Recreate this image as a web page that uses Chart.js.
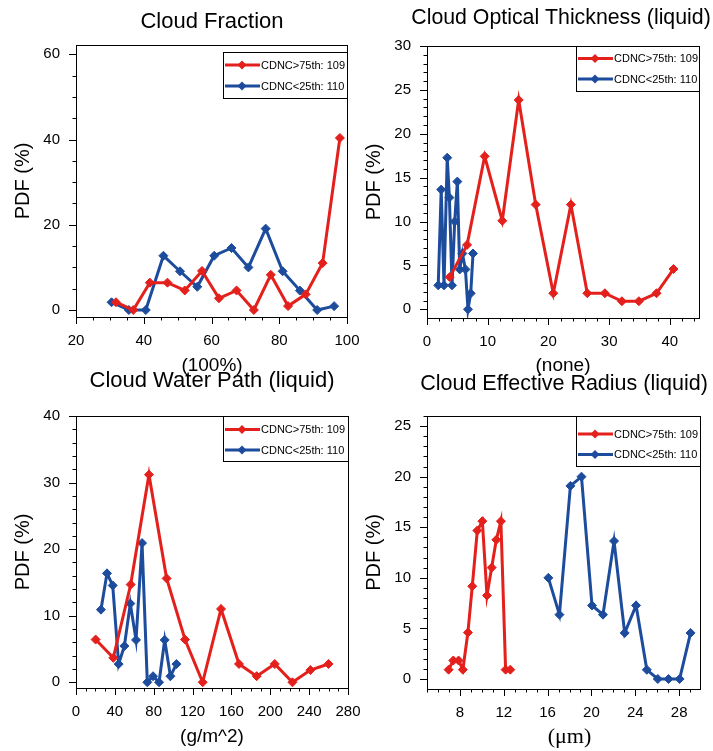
<!DOCTYPE html>
<html>
<head>
<meta charset="utf-8">
<title>CDNC PDFs</title>
<script src="https://cdn.jsdelivr.net/npm/chart.js@4/dist/chart.umd.min.js"></script>
<style>
  body { margin: 0; background: #fff; }
  #wrap { position: relative; width: 713px; height: 751px; }
  #wrap canvas { position: absolute; left: 0; top: 0; }
</style>
</head>
<body>
<div id="wrap">
  <canvas id="cf" width="713" height="751"></canvas>
  <canvas id="cot" width="713" height="751"></canvas>
  <canvas id="cwp" width="713" height="751"></canvas>
  <canvas id="cer" width="713" height="751"></canvas>
</div>
<script>
const RED = '#e3201c';
const BLUE = '#1d4c9d';
const LABEL_HI = 'CDNC>75th: 109';
const LABEL_LO = 'CDNC<25th: 110';

// Cloud fraction (100%)
const cfHiX = [31.8, 36.9, 41.8, 47.0, 52.1, 57.2, 62.2, 67.4, 72.5, 77.5, 82.6, 87.8, 92.8, 97.9];
const cfHiY = [1.83, 0, 6.42, 6.42, 4.59, 9.17, 2.75, 4.59, 0, 8.26, 0.92, 3.67, 11.01, 40.37];
const cfLoX = [30.5, 35.6, 40.6, 45.8, 50.7, 55.8, 60.8, 65.9, 70.9, 76.0, 81.0, 86.1, 91.2, 96.2];
const cfLoY = [1.82, 0, 0, 12.73, 9.09, 5.45, 12.73, 14.55, 10.0, 19.09, 9.09, 4.55, 0, 0.91];
const cfXTicks = [20, 40, 60, 80, 100];
const cfYTicks = [0, 20, 40, 60];

// Cloud optical thickness, liquid (none)
const cotHiX = [3.74, 6.6, 9.5, 12.4, 15.1, 17.9, 20.8, 23.7, 26.4, 29.3, 32.1, 34.9, 37.8, 40.6];
const cotHiY = [3.67, 7.34, 17.43, 10.09, 23.85, 11.93, 1.83, 11.93, 1.83, 1.83, 0.92, 0.92, 1.83, 4.59];
const cotLoX = [1.85, 2.34, 2.8, 3.33, 3.69, 4.12, 4.56, 5.0, 5.39, 5.83, 6.33, 6.75, 7.2, 7.58];
const cotLoY = [2.73, 13.64, 2.73, 17.27, 12.73, 2.73, 10.0, 14.55, 4.55, 6.36, 4.55, 0, 1.82, 6.36];
const cotXTicks = [0, 10, 20, 30, 40];
const cotYTicks = [0, 5, 10, 15, 20, 25, 30];

// Cloud water path, liquid (g/m^2)
const cwpHiX = [20.2, 38.4, 56.3, 75.1, 93.3, 112.2, 130.4, 149.3, 167.8, 186.0, 204.6, 222.8, 241.3, 259.9];
const cwpHiY = [6.42, 3.67, 14.68, 31.19, 15.6, 6.42, 0, 11.01, 2.75, 0.92, 2.75, 0, 1.83, 2.75];
const cwpLoX = [25.7, 31.9, 37.8, 43.9, 49.8, 55.9, 61.8, 68.0, 73.4, 79.3, 85.5, 91.3, 97.2, 103.4];
const cwpLoY = [10.91, 16.36, 14.55, 2.73, 5.45, 11.82, 6.36, 20.91, 0, 0.91, 0, 6.36, 0.91, 2.73];
const cwpXTicks = [0, 40, 80, 120, 160, 200, 240, 280];
const cwpYTicks = [0, 10, 20, 30, 40];

// Cloud effective radius, liquid (um)
const cerHiX = [6.97, 7.40, 7.88, 8.27, 8.73, 9.13, 9.59, 10.05, 10.47, 10.9, 11.32, 11.74, 12.17, 12.6];
const cerHiY = [0.92, 1.83, 1.83, 0.92, 4.59, 9.17, 14.68, 15.6, 8.26, 11.01, 13.76, 15.6, 0.92, 0.92];
const cerLoX = [16.07, 17.08, 18.08, 19.09, 20.05, 21.05, 22.06, 23.03, 24.07, 25.05, 26.05, 27.03, 28.04, 29.04];
const cerLoY = [10.0, 6.36, 19.09, 20.0, 7.27, 6.36, 13.64, 4.55, 7.27, 0.91, 0, 0, 0, 4.55];
const cerXTicks = [8, 12, 16, 20, 24, 28];
const cerYTicks = [0, 5, 10, 15, 20, 25];

const PAGE_W = 713, PAGE_H = 751;
const SANS = '"Liberation Sans", Arial, Helvetica, sans-serif';
const SERIF = '"Liberation Serif", "Times New Roman", serif';

function series(label, xs, ys, color) {
  return {
    label: label,
    data: xs.map((x, i) => ({ x: x, y: ys[i] })),
    borderColor: color,
    backgroundColor: color,
    borderWidth: 3,
    pointStyle: 'rectRot',
    pointRadius: 4.5,
    pointBorderWidth: 1,
    pointBackgroundColor: color,
    pointBorderColor: color,
    tension: 0,
    fill: false
  };
}

function diamond(ctx, x, y, r, color) {
  ctx.fillStyle = color;
  ctx.beginPath();
  ctx.moveTo(x - r, y);
  ctx.lineTo(x, y - r);
  ctx.lineTo(x + r, y);
  ctx.lineTo(x, y + r);
  ctx.closePath();
  ctx.fill();
}

// outward tick marks on the left and bottom axes, majors at the labelled values
function drawTicks(ctx, scale, majors, minorStep, area, horizontal) {
  const first = Math.ceil(scale.min / minorStep - 1e-6);
  for (let k = first; k * minorStep <= scale.max + 1e-6; k++) {
    const v = k * minorStep;
    const major = majors.some(m => Math.abs(m - v) < 1e-6);
    const len = major ? 7 : 3.5;
    const p = Math.round(scale.getPixelForValue(v)) + 0.5;
    ctx.beginPath();
    if (horizontal) {
      ctx.moveTo(p, area.bottom);
      ctx.lineTo(p, area.bottom + len);
    } else {
      ctx.moveTo(area.left, p);
      ctx.lineTo(area.left - len, p);
    }
    ctx.stroke();
  }
}

function decoPlugin(p) {
  return {
    id: 'deco',
    afterDatasetsDraw(chart) {
      const ctx = chart.ctx;
      const a = chart.chartArea;
      ctx.save();
      // frame
      ctx.strokeStyle = '#000';
      ctx.lineWidth = 1;
      ctx.strokeRect(Math.round(a.left) + 0.5, Math.round(a.top) + 0.5,
        Math.round(a.right - a.left), Math.round(a.bottom - a.top));
      drawTicks(ctx, chart.scales.x, p.xTicks, p.xMinor, a, true);
      drawTicks(ctx, chart.scales.y, p.yTicks, p.yMinor, a, false);

      // legend box
      const lg = p.legend;
      ctx.fillStyle = '#fff';
      ctx.fillRect(lg.x, lg.y, lg.w, lg.h);
      ctx.strokeRect(lg.x + 0.5, lg.y + 0.5, lg.w, lg.h);
      chart.data.datasets.forEach((ds, i) => {
        const y = lg.rows[i];
        ctx.strokeStyle = ds.borderColor;
        ctx.lineWidth = 3;
        ctx.beginPath();
        ctx.moveTo(lg.x + 2, y);
        ctx.lineTo(lg.x + 37, y);
        ctx.stroke();
        diamond(ctx, lg.x + 19, y, 4.5, ds.borderColor);
        ctx.fillStyle = '#000';
        ctx.font = '11px ' + SANS;
        ctx.textAlign = 'left';
        ctx.textBaseline = 'middle';
        ctx.fillText(ds.label, lg.x + 38, y + 0.5);
      });

      // titles
      ctx.fillStyle = '#000';
      ctx.textAlign = 'center';
      ctx.textBaseline = 'middle';
      ctx.font = p.titleSize + 'px ' + SANS;
      ctx.fillText(p.title, p.titlePos[0], p.titlePos[1]);
      ctx.font = p.xTitleFont;
      ctx.fillText(p.xTitle, p.xTitlePos[0], p.xTitlePos[1]);
      ctx.save();
      ctx.translate(p.yTitlePos[0], p.yTitlePos[1]);
      ctx.rotate(-Math.PI / 2);
      ctx.textBaseline = 'alphabetic';
      ctx.font = '20px ' + SANS;
      ctx.fillText('PDF (%)', 0, 0);
      ctx.restore();
      ctx.restore();
    }
  };
}

function makePanel(id, p) {
  const a = p.area;
  return new Chart(document.getElementById(id), {
    type: 'line',
    data: {
      datasets: [
        series(LABEL_HI, p.hiX, p.hiY, RED),
        series(LABEL_LO, p.loX, p.loY, BLUE)
      ]
    },
    options: {
      responsive: false,
      animation: false,
      devicePixelRatio: 1,
      layout: { padding: { top: a.top, right: PAGE_W - a.right, bottom: 0, left: 0 } },
      plugins: { legend: { display: false }, tooltip: { enabled: false }, title: { display: false } },
      scales: {
        x: {
          type: 'linear',
          min: p.xRange[0],
          max: p.xRange[1],
          grid: { display: false, drawTicks: false },
          border: { display: false },
          afterBuildTicks: s => { s.ticks = p.xTicks.map(v => ({ value: v })); },
          afterFit: s => { s.height = PAGE_H - a.bottom; s.paddingLeft = 0; s.paddingRight = 0; },
          ticks: { color: '#000', font: { family: SANS, size: 15 }, padding: 15, maxRotation: 0, autoSkip: false }
        },
        y: {
          type: 'linear',
          min: p.yRange[0],
          max: p.yRange[1],
          grid: { display: false, drawTicks: false },
          border: { display: false },
          afterBuildTicks: s => { s.ticks = p.yTicks.map(v => ({ value: v })); },
          afterFit: s => { s.width = a.left; s.paddingTop = 0; s.paddingBottom = 0; },
          ticks: { color: '#000', font: { family: SANS, size: 15 }, padding: 16, autoSkip: false }
        }
      }
    },
    plugins: [decoPlugin(p)]
  });
}

makePanel('cf', {
  hiX: cfHiX, hiY: cfHiY, loX: cfLoX, loY: cfLoY,
  xTicks: cfXTicks, yTicks: cfYTicks, xMinor: 5, yMinor: 5,
  xRange: [20, 100], yRange: [-1.64, 62.18],
  area: { left: 76, top: 45, right: 347, bottom: 317 },
  legend: { x: 223, y: 52, w: 124, h: 46, rows: [65, 86] },
  title: 'Cloud Fraction', titlePos: [212, 22], titleSize: 22,
  xTitle: '(100%)', xTitlePos: [212, 366], xTitleFont: '19px ' + SANS,
  yTitlePos: [29, 181]
});

makePanel('cot', {
  hiX: cotHiX, hiY: cotHiY, loX: cotLoX, loY: cotLoY,
  xTicks: cotXTicks, yTicks: cotYTicks, xMinor: 2, yMinor: 1,
  xRange: [0, 44.8], yRange: [-0.99, 30],
  area: { left: 427, top: 46, right: 699, bottom: 318 },
  legend: { x: 576, y: 46, w: 123, h: 45, rows: [58.5, 79] },
  title: 'Cloud Optical Thickness (liquid)', titlePos: [561, 18], titleSize: 21.3,
  xTitle: '(none)', xTitlePos: [563, 366], xTitleFont: '19px ' + SANS,
  yTitlePos: [380, 182]
});

makePanel('cwp', {
  hiX: cwpHiX, hiY: cwpHiY, loX: cwpLoX, loY: cwpLoY,
  xTicks: cwpXTicks, yTicks: cwpYTicks, xMinor: 10, yMinor: 2,
  xRange: [0, 280], yRange: [-0.86, 40],
  area: { left: 76, top: 416, right: 348, bottom: 688 },
  legend: { x: 223, y: 416, w: 125, h: 45, rows: [429.5, 450] },
  title: 'Cloud Water Path (liquid)', titlePos: [212, 381], titleSize: 22,
  xTitle: '(g/m^2)', xTitlePos: [212, 737], xTitleFont: '19px ' + SANS,
  yTitlePos: [29, 552]
});

makePanel('cer', {
  hiX: cerHiX, hiY: cerHiY, loX: cerLoX, loY: cerLoY,
  xTicks: cerXTicks, yTicks: cerYTicks, xMinor: 1, yMinor: 1,
  xRange: [5.0, 29.9], yRange: [-0.99, 26],
  area: { left: 427, top: 416, right: 700, bottom: 689 },
  legend: { x: 576, y: 416, w: 124, h: 50, rows: [434, 454.5] },
  title: 'Cloud Effective Radius (liquid)', titlePos: [564, 384], titleSize: 21.5,
  xTitle: '(\u03bcm)', xTitlePos: [569.5, 737], xTitleFont: '22px ' + SERIF,
  yTitlePos: [380, 552.5]
});
</script>
</body>
</html>
